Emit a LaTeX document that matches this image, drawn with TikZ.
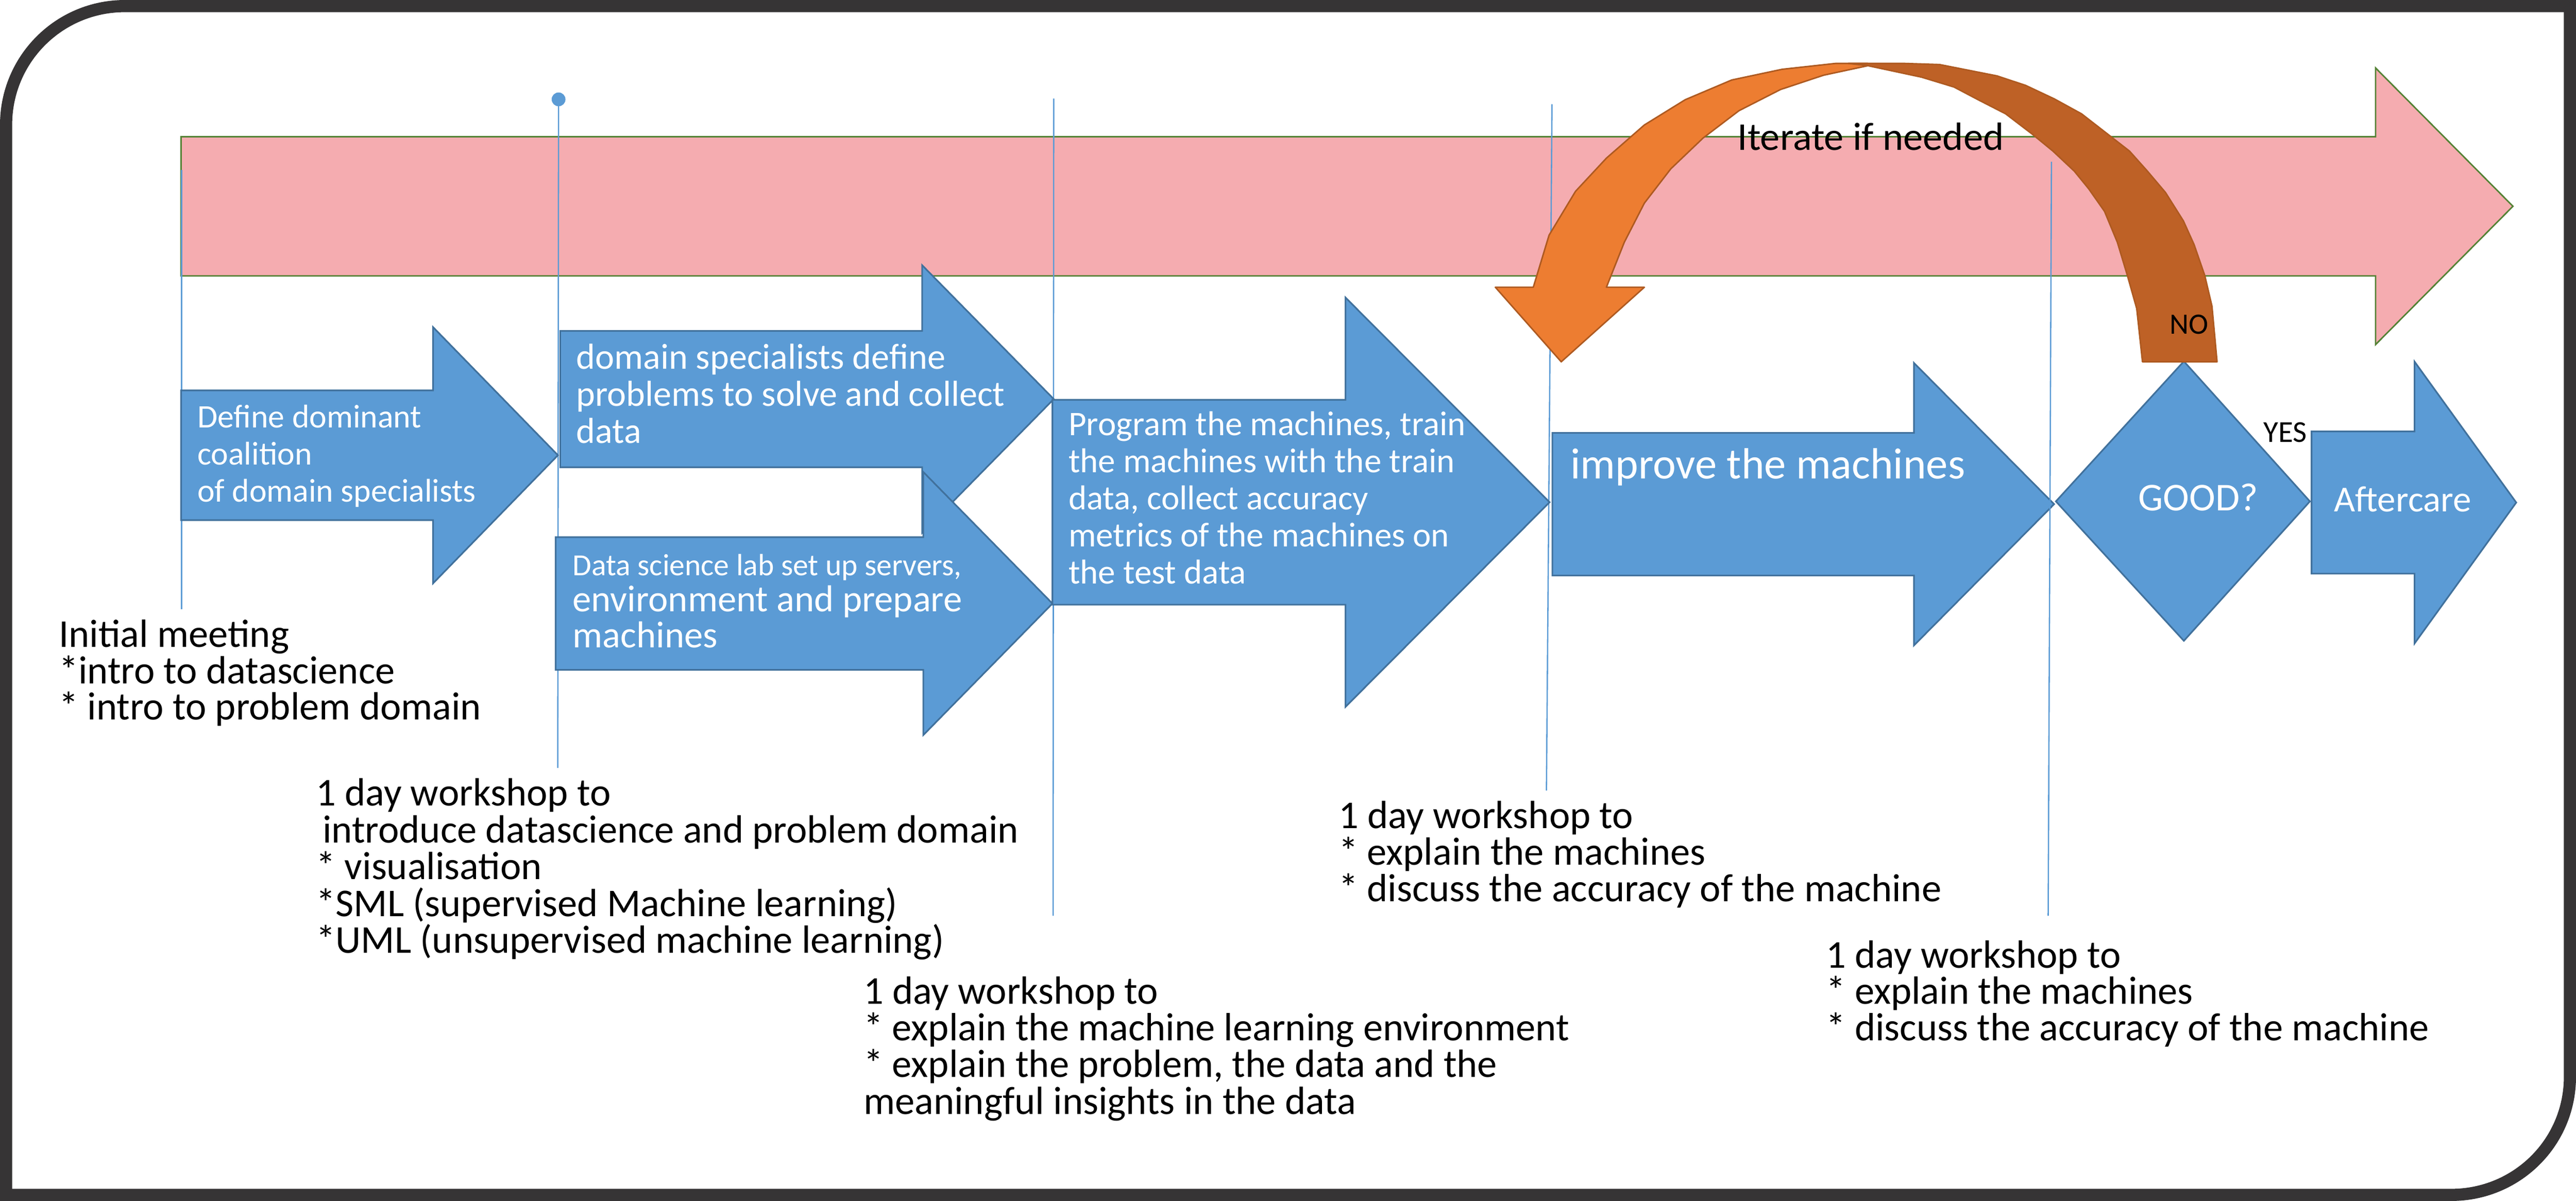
\documentclass[tikz,border=0pt]{standalone}
\usepackage{fontspec}
\setmainfont{Carlito}
\definecolor{frameC}{HTML}{363435}
\definecolor{pinkF}{HTML}{F5ACB0}
\definecolor{greenB}{HTML}{548235}
\definecolor{blueF}{HTML}{5B9BD5}
\definecolor{blueD}{HTML}{41719C}
\definecolor{orangeL}{HTML}{ED7D31}
\definecolor{orangeD}{HTML}{BE6126}
\definecolor{orangeB}{HTML}{AE5A21}
\newcommand\myfs[2]{\fontsize{#1}{#2}\selectfont\lineskiplimit=-100pt\relax}
% name, x0, xh, xt, yc, half shaft, half head, style
\newcommand\blockarrow[8]{%
  \draw[#8] ({#2},{#5-#6}) -- ({#3},{#5-#6}) -- ({#3},{#5-#7}) -- ({#4},{#5})
    -- ({#3},{#5+#7}) -- ({#3},{#5+#6}) -- ({#2},{#5+#6}) -- cycle;
  \coordinate (#1) at ({#4},{#5});}
\begin{document}
\begin{tikzpicture}[x=1pt,y=-1pt,
  blk/.style={fill=blueF,draw=blueD,line width=1pt,line join=miter},
  pinkarrow/.style={fill=pinkF,draw=greenB,line width=0.9pt,line join=miter},
  vline/.style={draw=blueF,line width=0.8pt},
  wtxt/.style={text=white,inner sep=0pt,anchor=base west,align=left},
  btxt/.style={text=black,inner sep=0pt,anchor=base west,align=left},
  frame/.style={draw=frameC,line width=7.4pt},
  oarrow/.style={draw=orangeB,line width=0.9pt,line join=round}]
\useasboundingbox (0,0) rectangle (1568,731.25);

% outer frame
\draw[frame] (3.7,727.6) -- (3.7,76) .. controls (3.7,36) and (36,3.7) .. (76,3.7)
  -- (1564.3,3.7) -- (1564.3,655.6) .. controls (1564.3,695.6) and (1532,727.6) .. (1492,727.6)
  -- cycle;

% big pink timeline arrow
\blockarrow{pinktip}{110.2}{1446}{1529.6}{125.6}{42.4}{84.2}{pinkarrow}

% vertical milestone lines
\coordinate (l1t) at (110.5,103.4); \coordinate (l1b) at (110.5,371);
\node[circle,fill=blueF,inner sep=0pt,minimum size=8.4pt] (dot2) at (340,60.5) {};
\coordinate (l2b) at (339.5,467.6);
\coordinate (l3t) at (641.4,60); \coordinate (l3b) at (641,557.6);
\coordinate (l4t) at (944.7,63.5); \coordinate (l4b) at (941.3,481.3);
\coordinate (l5t) at (1248.7,98.5); \coordinate (l5b) at (1246.7,557.6);
\draw[vline] (l1t) -- (l1b);
\draw[vline] (dot2.center) -- (l2b);
\draw[vline] (l3t) -- (l3b);
\draw[vline] (l4t) -- (l4b);

% blue process arrows
\blockarrow{atip}{110.2}{263.6}{339.6}{277.2}{39.5}{78}{blk}
\blockarrow{btip}{341}{561.3}{641.4}{243}{41.5}{81.5}{blk}
\blockarrow{ctip}{338.2}{562}{640.6}{367.5}{40.4}{80.1}{blk}
\blockarrow{dtip}{640.6}{819}{943.2}{305.8}{62.4}{124.6}{blk}
\blockarrow{etip}{944.9}{1165}{1250.3}{307}{43.4}{86}{blk}
\draw[blk] (1329.3,220) -- (1406,305.3) -- (1329.3,390.2) -- (1251.4,305.3) -- cycle;
\blockarrow{ftip}{1407}{1469.7}{1531.6}{306}{43.3}{85.8}{blk}
\draw[vline] (l5t) -- (l5b);

% orange iterate arrow
\fill[orangeL] (1137,38.6) -- (1117.4,38.6) -- (1084.7,42.2) -- (1054.1,48.7) -- (1025.8,60.7)
  -- (1000.9,76.1) -- (977.8,96.3) -- (959.0,116.5) -- (942.9,143.2) -- (933.3,174.9)
  -- (910.2,174.9) -- (950.3,220.3) -- (1000.9,174.9) -- (977.8,174.9) -- (988.7,147.5)
  -- (1000.9,123.7) -- (1017.0,102.8) -- (1036.7,84.0) -- (1058.5,67.4) -- (1083.8,54.5)
  -- (1110.0,45.8) -- (1137,40.0) -- cycle;
\draw[oarrow] (1137,38.6) -- (1117.4,38.6) -- (1084.7,42.2) -- (1054.1,48.7) -- (1025.8,60.7)
  -- (1000.9,76.1) -- (977.8,96.3) -- (959.0,116.5) -- (942.9,143.2) -- (933.3,174.9)
  -- (910.2,174.9) -- (950.3,220.3) -- (1000.9,174.9) -- (977.8,174.9) -- (988.7,147.5)
  -- (1000.9,123.7) -- (1017.0,102.8) -- (1036.7,84.0) -- (1058.5,67.4) -- (1083.8,54.5)
  -- (1110.0,45.8) -- (1137,40.0);
\draw[oarrow,fill=orangeD] (1125,38.6) -- (1158.8,38.6) -- (1180.6,39.3) -- (1215.5,46.2) -- (1233.0,52.0)
  -- (1250.4,60.2) -- (1267.0,69.3) -- (1284.5,82.9) -- (1296.2,92.0) -- (1307.1,104.2)
  -- (1318.1,117.2) -- (1329.0,134.5) -- (1335.5,148.9) -- (1342.0,167.7) -- (1346.4,186.4)
  -- (1349.5,220.3) -- (1304.1,220.3) -- (1300.6,187.9) -- (1294.9,167.7) -- (1288.8,147.5)
  -- (1281.0,128.7) -- (1271.4,115.0) -- (1262.6,104.2) -- (1249.6,92.0) -- (1237.3,81.9)
  -- (1220.8,69.3) -- (1204.6,61.0) -- (1189.4,53.0) -- (1169.7,47.0) -- (1137,40.0) -- cycle;

% labels on the orange arrow and decision
\node[btxt,font=\myfs{24}{24}] (iter) at (1057.5,91.5) {Iterate if needed};
\node[btxt,font=\myfs{18}{18}] (no) at (1320.5,203.3) {NO};
\node[btxt,font=\myfs{18.5}{18.5}] (yes) at (1377.6,269.3) {YES};

% texts inside the arrows (anchor = baseline of the last line)
\node[wtxt,font=\myfs{20}{22.7}] (ta) at (120,305.7) {Define dominant\\coalition\\of domain specialists};
\node[wtxt,font=\myfs{22}{22.5}] (tb) at (350.6,269.7) {domain specialists define\\problems to solve and collect\\data};
\node[wtxt,font=\myfs{18.7}{18.7}] (tc1) at (348.4,350.5) {Data science lab set up servers,};
\node[wtxt,font=\myfs{22.8}{22}] (tc2) at (348.4,394.5) {environment and prepare\\machines};
\node[wtxt,font=\myfs{21}{22.6}] (td) at (650.3,355.4) {Program the machines, train\\the machines with the train\\data, collect accuracy\\metrics of the machines on\\the test data};
\node[wtxt,font=\myfs{26.6}{26.6}] (te) at (955.8,291.5) {improve the machines};
\node[text=white,inner sep=0pt,anchor=base,font=\myfs{24}{24}] (good) at (1338,310.9) {GOOD?};
\node[wtxt,font=\myfs{22.3}{22.3}] (tf) at (1420.6,311.5) {Aftercare};

% texts under the timeline (anchor = baseline of the last line)
\node[btxt,font=\myfs{24}{22.2}] (m1) at (35.6,438.4) {Initial meeting\\{*}intro to datascience\\{*} intro to problem domain};
\node[btxt,font=\myfs{24}{22.4}] (m2) at (192.2,580.3) {1 day workshop to\\\hspace*{4pt}introduce datascience and problem domain\\{*} visualisation\\{*}SML (supervised Machine learning)\\{*}UML (unsupervised machine learning)};
\node[btxt,font=\myfs{24}{22.4}] (m3) at (525.5,678.4) {1 day workshop to\\{*} explain the machine learning environment\\{*} explain the problem, the data and the\\meaningful insights in the data};
\node[btxt,font=\myfs{24}{22.3}] (m4) at (814.6,548.9) {1 day workshop to\\{*} explain the machines\\{*} discuss the accuracy of the machine};
\node[btxt,font=\myfs{24}{22.1}] (m5) at (1111.4,633.6) {1 day workshop to\\{*} explain the machines\\{*} discuss the accuracy of the machine};
\end{tikzpicture}
\end{document}
